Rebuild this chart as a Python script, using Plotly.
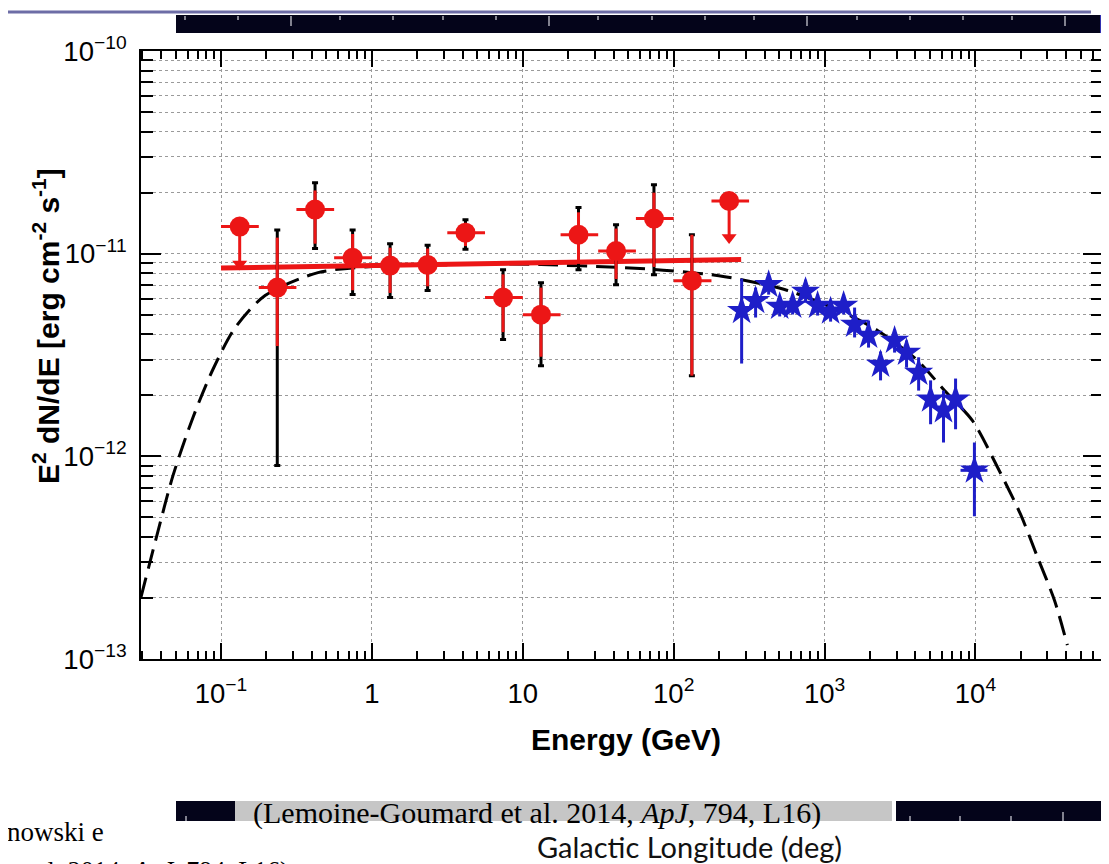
import math
import plotly.graph_objects as go

# ---------------- data ----------------
# Fermi-LAT detected points (E in GeV, E^2 dN/dE in erg cm^-2 s^-1)
fermi_E = [0.236, 0.42, 0.745, 1.32, 2.34, 4.17, 7.4, 13.2, 23.4, 41.5, 74, 132]
fermi_F = [6.8e-12, 1.65e-11, 9.55e-12, 8.73e-12, 8.8e-12, 1.27e-11,
           6.07e-12, 5.0e-12, 1.24e-11, 1.03e-11, 1.49e-11, 7.36e-12]
fermi_Elo = [0.178, 0.316, 0.562, 1.0, 1.78, 3.16, 5.62, 10, 17.8, 31.6, 56.2, 100]
fermi_Ehi = [0.316, 0.562, 1.0, 1.78, 3.16, 5.62, 10, 17.8, 31.6, 56.2, 100, 178]
fermi_stat_hi = [1.2e-11, 2.05e-11, 1.25e-11, 1.07e-11, 1.06e-11, 1.42e-11,
                 7.9e-12, 6.8e-12, 1.6e-11, 1.33e-11, 2.0e-11, 1.24e-11]
fermi_stat_lo = [3.5e-12, 1.12e-11, 6.6e-12, 6.4e-12, 6.9e-12, 1.09e-11,
                 4.1e-12, 3.1e-12, 8.9e-12, 7.5e-12, 8.6e-12, 2.5e-12]
fermi_sys_hi = [1.31e-11, 2.24e-11, 1.31e-11, 1.12e-11, 1.1e-11, 1.47e-11,
                8.34e-12, 7.19e-12, 1.69e-11, 1.39e-11, 2.19e-11, 1.24e-11]
fermi_sys_lo = [9.0e-13, 1.06e-11, 6.28e-12, 6.07e-12, 6.58e-12, 1.05e-11,
                3.77e-12, 2.8e-12, 8.34e-12, 7.03e-12, 7.88e-12, 2.5e-12]

# Fermi-LAT upper limits
ul_E = [0.133, 233]
ul_F = [1.36e-11, 1.82e-11]
ul_tip = [8.9e-12, 1.2e-11]
ul_Elo = [0.1, 178]
ul_Ehi = [0.178, 316]

# Fermi power-law fit
fit_E = [0.1, 280]
fit_F = [8.5e-12, 9.35e-12]

# H.E.S.S. points
hess_E = [282, 349, 426, 504, 614, 748, 899, 1096, 1337, 1581, 1956, 2349,
          2910, 3493, 4200, 5040, 6140, 7380, 9840]
hess_F = [5.23e-12, 5.86e-12, 7.03e-12, 5.48e-12, 5.55e-12, 6.5e-12, 5.55e-12,
          5.2e-12, 5.55e-12, 4.47e-12, 3.95e-12, 2.84e-12, 3.73e-12, 3.25e-12,
          2.59e-12, 1.91e-12, 1.69e-12, 1.91e-12, 8.53e-13]
hess_hi = [7.53e-12, 6.8e-12, 7.88e-12, 6.14e-12, 6.21e-12, 7.44e-12, 6.28e-12,
           5.93e-12, 6.28e-12, 5.42e-12, 4.68e-12, 3.29e-12, 4.22e-12, 3.73e-12,
           3.08e-12, 2.37e-12, 2.11e-12, 2.42e-12, 1.17e-12]
hess_lo = [2.87e-12, 4.84e-12, 6.28e-12, 4.9e-12, 5.01e-12, 5.74e-12, 4.95e-12,
           4.62e-12, 5.01e-12, 3.86e-12, 3.44e-12, 2.37e-12, 3.25e-12, 2.74e-12,
           2.11e-12, 1.44e-12, 1.17e-12, 1.36e-12, 5.06e-13]
hess_Elo = [282, 349, 426, 504, 614, 748, 899, 1096, 1337, 1581, 1956, 2349,
            2910, 3493, 4200, 5040, 6140, 7380, 7960]
hess_Ehi = [282, 349, 426, 504, 614, 748, 899, 1096, 1337, 1581, 1956, 2349,
            2910, 3493, 4200, 5040, 6140, 7380, 12000]

# model curve
model_E = [0.0295, 0.0372, 0.0481, 0.0653, 0.0885, 0.124, 0.196, 0.439, 1.28,
           3.72, 13.2, 47.3, 95.5, 218, 569, 1419, 2244, 4130, 6237, 9550,
           14000, 19870, 25760, 33370, 40640]
model_F = [2.02e-13, 3.95e-13, 8.05e-13, 1.56e-12, 2.69e-12, 4.31e-12, 6.21e-12,
           8.06e-12, 8.73e-12, 8.93e-12, 8.83e-12, 8.53e-12, 8.24e-12, 7.70e-12,
           6.58e-12, 5.01e-12, 4.18e-12, 2.97e-12, 2.11e-12, 1.50e-12, 8.83e-13,
           5.18e-13, 3.18e-13, 1.95e-13, 1.17e-13]

x_range_E = [0.0295, 70000]
y_range_F = [1e-13, 1e-10]

# ---------------- figure ----------------
RED = "#ec1616"
BLUE = "#1e1ec8"


def diff_up(v, ref):
    return [a - b for a, b in zip(v, ref)]


fig = go.Figure()

fig.add_trace(go.Scatter(
    x=model_E, y=model_F, mode="lines",
    line=dict(color="black", width=3, dash="20px,9px", shape="spline", smoothing=0.8),
    hoverinfo="skip", showlegend=False))

fig.add_trace(go.Scatter(
    x=fit_E, y=fit_F, mode="lines",
    line=dict(color=RED, width=5), showlegend=False))

# systematic (black) error bars
fig.add_trace(go.Scatter(
    x=fermi_E, y=fermi_F, mode="markers",
    marker=dict(color="rgba(0,0,0,0)", size=1),
    error_y=dict(type="data", symmetric=False,
                 array=diff_up(fermi_sys_hi, fermi_F),
                 arrayminus=diff_up(fermi_F, fermi_sys_lo),
                 color="black", thickness=3, width=3),
    showlegend=False))

# Fermi points with stat errors
fig.add_trace(go.Scatter(
    x=fermi_E, y=fermi_F, mode="markers",
    marker=dict(color=RED, size=20, symbol="circle"),
    error_y=dict(type="data", symmetric=False,
                 array=diff_up(fermi_stat_hi, fermi_F),
                 arrayminus=diff_up(fermi_F, fermi_stat_lo),
                 color=RED, thickness=3, width=0),
    error_x=dict(type="data", symmetric=False,
                 array=diff_up(fermi_Ehi, fermi_E),
                 arrayminus=diff_up(fermi_E, fermi_Elo),
                 color=RED, thickness=3, width=0),
    showlegend=False))

# upper limits
stem_x, stem_y = [], []
for e, f, t in zip(ul_E, ul_F, ul_tip):
    stem_x += [e, e, None]
    stem_y += [f, t, None]
fig.add_trace(go.Scatter(x=stem_x, y=stem_y, mode="lines",
                         line=dict(color=RED, width=3), showlegend=False))
fig.add_trace(go.Scatter(x=ul_E, y=ul_tip, mode="markers",
                         marker=dict(color=RED, size=13, symbol="triangle-down"),
                         showlegend=False))
fig.add_trace(go.Scatter(
    x=ul_E, y=ul_F, mode="markers",
    marker=dict(color=RED, size=20, symbol="circle"),
    error_x=dict(type="data", symmetric=False,
                 array=diff_up(ul_Ehi, ul_E),
                 arrayminus=diff_up(ul_E, ul_Elo),
                 color=RED, thickness=3, width=0),
    showlegend=False))

# HESS
fig.add_trace(go.Scatter(
    x=hess_E, y=hess_F, mode="markers",
    marker=dict(color=BLUE, size=22, symbol="star"),
    error_y=dict(type="data", symmetric=False,
                 array=diff_up(hess_hi, hess_F),
                 arrayminus=diff_up(hess_F, hess_lo),
                 color=BLUE, thickness=3, width=0),
    error_x=dict(type="data", symmetric=False,
                 array=diff_up(hess_Ehi, hess_E),
                 arrayminus=diff_up(hess_E, hess_Elo),
                 color=BLUE, thickness=3, width=0),
    showlegend=False))

# ---------------- layout ----------------
WIDTH, HEIGHT = 1109, 864
L, R, T, B = 133, 1095, 43, 651
PW, PH = R - L, B - T


def px(x):
    return (x - L) / PW


def py(y):
    return (B - y) / PH


SANS = "Liberation Sans, Arial, sans-serif"
SERIF = "Liberation Serif, Times New Roman, serif"
TICKFONT = dict(family=SANS, size=22, color="black")
GRID = "#9a9a9a"

fig.update_layout(
    width=WIDTH, height=HEIGHT,
    margin=dict(l=L, r=WIDTH - R, t=T, b=HEIGHT - B, autoexpand=False),
    paper_bgcolor="white", plot_bgcolor="white",
    showlegend=False,
    xaxis=dict(
        type="log", range=[math.log10(x_range_E[0]), math.log10(x_range_E[1])],
        dtick=1, exponentformat="power",
        showline=True, linecolor="black", linewidth=2, mirror="allticks",
        ticks="inside", ticklen=16, tickwidth=1.5, tickcolor="black",
        showgrid=True, gridcolor=GRID, griddash="dot", gridwidth=1,
        minor=dict(ticks="inside", ticklen=8, tickwidth=1.5, tickcolor="black",
                   showgrid=False),
        tickfont=TICKFONT, ticklabelstandoff=10, zeroline=False,
    ),
    yaxis=dict(
        type="log", range=[math.log10(y_range_F[0]), math.log10(y_range_F[1])],
        dtick=1, exponentformat="power",
        showline=True, linecolor="black", linewidth=2, mirror="allticks",
        ticks="inside", ticklen=20, tickwidth=1.5, tickcolor="black",
        showgrid=True, gridcolor=GRID, griddash="dot", gridwidth=1,
        minor=dict(ticks="inside", ticklen=12, tickwidth=1.5, tickcolor="black",
                   showgrid=True, gridcolor=GRID, griddash="dot", gridwidth=1,
                   dtick="D1"),
        tickfont=TICKFONT, ticklabelstandoff=8, zeroline=False,
    ),
)

shapes = []
# top: slide line and black strip with white ticks
shapes.append(dict(type="line", xref="paper", yref="paper",
                   x0=px(0), x1=px(1083), y0=py(4), y1=py(4),
                   line=dict(color="#6d6da6", width=3)))
shapes.append(dict(type="rect", xref="paper", yref="paper",
                   x0=px(168), x1=px(1095), y0=py(25), y1=py(7),
                   fillcolor="#04041a", line=dict(width=0)))
shapes.append(dict(type="rect", xref="paper", yref="paper",
                   x0=px(1092), x1=px(1095), y0=py(25), y1=py(7),
                   fillcolor="#3030b0", line=dict(width=0)))
top_ticks = [177, 230, 283, 332, 385, 435, 488, 541, 590, 644, 697, 746,
             799, 849, 902, 955, 1004, 1057]
for i, t in enumerate(top_ticks):
    long_tick = (i % 5 == 2)
    shapes.append(dict(type="line", xref="paper", yref="paper",
                       x0=px(t), x1=px(t), y0=py(8), y1=py(18 if long_tick else 12),
                       line=dict(color="#d8d8e0", width=1.2)))

# bottom strip: black / grey caption box / black
shapes.append(dict(type="rect", xref="paper", yref="paper",
                   x0=px(168), x1=px(227), y0=py(813), y1=py(793),
                   fillcolor="#04041a", line=dict(width=0)))
shapes.append(dict(type="rect", xref="paper", yref="paper",
                   x0=px(227), x1=px(884), y0=py(813), y1=py(793),
                   fillcolor="#c6c6c6", line=dict(width=0)))
shapes.append(dict(type="rect", xref="paper", yref="paper",
                   x0=px(888), x1=px(1095), y0=py(813), y1=py(793),
                   fillcolor="#04041a", line=dict(width=0)))
for t, ln in [(178, 5), (902, 5), (952, 5), (1003, 5), (1055, 9)]:
    shapes.append(dict(type="line", xref="paper", yref="paper",
                       x0=px(t), x1=px(t), y0=py(813), y1=py(813 - ln),
                       line=dict(color="#d8d8e0", width=1.2)))
fig.update_layout(shapes=shapes)

annotations = [
    dict(text="<b>Energy (GeV)</b>", xref="paper", yref="paper",
         x=px(618), y=py(731), xanchor="center", yanchor="middle", showarrow=False,
         font=dict(family=SANS, size=30, color="black")),
    dict(text="<b>E<sup>2</sup> dN/dE [erg cm<sup>-2</sup> s<sup>-1</sup>]</b>",
         xref="paper", yref="paper", x=px(38), y=py(318), textangle=-90,
         xanchor="center", yanchor="middle", showarrow=False,
         font=dict(family=SANS, size=30, color="black")),
    dict(text="(Lemoine-Goumard et al. 2014, <i>ApJ</i>, 794, L16)",
         xref="paper", yref="paper", x=px(243), y=py(805),
         xanchor="left", yanchor="middle", showarrow=False,
         font=dict(family=SERIF, size=30, color="black")),
    dict(text="Galactic Longitude (deg)", xref="paper", yref="paper",
         x=px(836), y=py(838), xanchor="right", yanchor="middle", showarrow=False,
         font=dict(family="Lato, Open Sans, sans-serif", size=29, color="#111111")),
    dict(text="nowski e", xref="paper", yref="paper", x=px(-3), y=py(824),
         xanchor="left", yanchor="middle", showarrow=False,
         font=dict(family=SERIF, size=27, color="black")),
    dict(text="al. 2014, <i>ApJ</i>, 794, L16)", xref="paper", yref="paper",
         x=px(26), y=py(846), xanchor="left", yanchor="top", showarrow=False,
         font=dict(family=SERIF, size=26, color="black")),
]
fig.update_layout(annotations=annotations)

fig.write_html("out.html")
